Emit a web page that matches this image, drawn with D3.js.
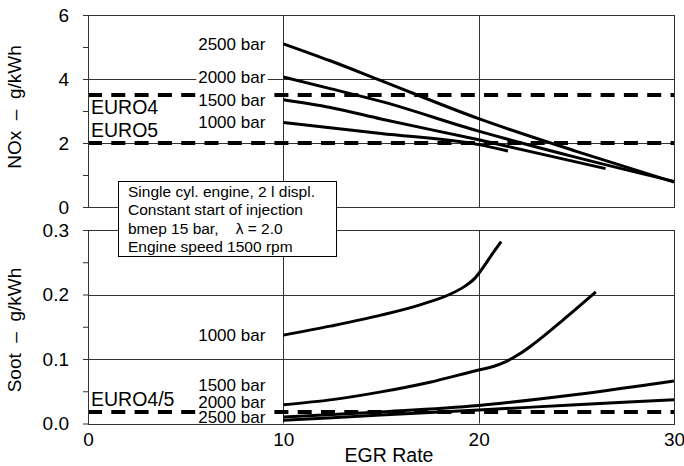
<!DOCTYPE html>
<html>
<head>
<meta charset="utf-8">
<script src="https://cdn.jsdelivr.net/npm/d3@7"></script>
<style>
  body { margin: 0; background: #fff; }
  svg text { font-family: "Liberation Sans", Arial, sans-serif; fill: #000; white-space: pre; }
</style>
</head>
<body>
<svg id="chart" width="684" height="466"></svg>
<script>
// x = EGR rate, y = NOx (g/kWh)
var pressures = ['1000 bar', '1500 bar', '2000 bar', '2500 bar'];
var nox1000 = [[10, 2.64], [15, 2.3], [20, 1.95], [21.5, 1.75]];
var nox1500 = [[10, 3.35], [12.4, 3.11], [15, 2.75], [20, 2.1], [26.5, 1.2]];
var nox2000 = [[10, 4.06], [12.4, 3.7], [15, 3.3], [20, 2.37], [25, 1.55], [30, 0.8]];
var nox2500 = [[10, 5.1], [12.4, 4.57], [15, 3.95], [20, 2.76], [25, 1.74], [30, 0.78]];
// x = EGR rate, y = soot (g/kWh)
var soot1000 = [[10, 0.137], [12.4, 0.151], [15, 0.168], [17, 0.184], [18.5, 0.2], [19.3, 0.213],
                [19.8, 0.225], [20.3, 0.245], [20.7, 0.263], [21.15, 0.282]];
var soot1500 = [[10, 0.029], [12.5, 0.037], [15, 0.049], [17.5, 0.064], [20, 0.083], [20.7, 0.088],
                [21.4, 0.096], [22.1, 0.108], [22.8, 0.123], [24.3, 0.16], [26, 0.204]];
var soot2000 = [[10, 0.01], [15, 0.018], [20, 0.028], [25, 0.045], [30, 0.066]];
var soot2500 = [[10, 0.005], [15, 0.013], [20, 0.021], [25, 0.029], [30, 0.037]];
// label anchors for the soot panel (value units)
var sootLabelAt = [0.137, 0.06, 0.034, 0.01];
// limits
var noxLimits = [{ name: 'EURO4', value: 3.5 }, { name: 'EURO5', value: 2.0 }];
var sootLimit = { name: 'EURO4/5', value: 0.018 };
var xTicks = [0, 10, 20, 30];
var noxTicks = [0, 1, 2, 3, 4, 5, 6];
var sootTicks = [0, 0.05, 0.1, 0.15, 0.2, 0.25, 0.3];
var infoLines = ['Single cyl. engine, 2 l displ.', 'Constant start of injection',
                 'bmep 15 bar,    \u03bb = 2.0', 'Engine speed 1500 rpm'];

var noxSeries = [nox1000, nox1500, nox2000, nox2500];
var sootSeries = [soot1000, soot1500, soot2000, soot2500];

var svg = d3.select('#chart');

var x = d3.scaleLinear().domain([0, 30]).range([88, 674]);
var yTop = d3.scaleLinear().domain([0, 6]).range([207, 15]);
var yBot = d3.scaleLinear().domain([0, 0.3]).range([423.5, 230]);

function grid(g, y, hVals) {
  g.selectAll('line.v').data([10, 20]).enter().append('line')
    .attr('x1', d => Math.round(x(d)) + 0.5).attr('x2', d => Math.round(x(d)) + 0.5)
    .attr('y1', y.range()[0]).attr('y2', y.range()[1])
    .attr('stroke', '#333').attr('stroke-width', 1);
  g.selectAll('line.h').data(hVals).enter().append('line')
    .attr('x1', x.range()[0]).attr('x2', x.range()[1])
    .attr('y1', d => Math.round(y(d)) + 0.5).attr('y2', d => Math.round(y(d)) + 0.5)
    .attr('stroke', '#333').attr('stroke-width', 1);
}

function dashed(g, y, v) {
  g.append('line')
    .attr('x1', x.range()[0]).attr('x2', x.range()[1])
    .attr('y1', y(v)).attr('y2', y(v))
    .attr('stroke', '#000').attr('stroke-width', 4)
    .attr('stroke-dasharray', '14,9.3');
}

function label(g, text, px, py, anchor, size) {
  var l = g.append('g');
  var t = l.append('text').attr('x', px).attr('y', py)
    .attr('text-anchor', anchor).attr('dy', '0.35em')
    .style('font-size', size + 'px').text(text);
  var b = t.node().getBBox();
  l.insert('rect', 'text').attr('x', b.x - 2).attr('y', b.y + 2)
    .attr('width', b.width + 4).attr('height', b.height - 4).attr('fill', '#fff');
}

function border(g, y) {
  g.append('rect')
    .attr('x', x.range()[0] + 0.5).attr('y', Math.round(y.range()[1]) + 0.5)
    .attr('width', x.range()[1] - x.range()[0])
    .attr('height', Math.round(y.range()[0]) - Math.round(y.range()[1]))
    .attr('fill', 'none').attr('stroke', '#333').attr('stroke-width', 1);
}

var line = function (y) {
  return d3.line().x(d => x(d[0])).y(d => y(d[1])).curve(d3.curveMonotoneX);
};

// ---- top panel: NOx
var topPanel = svg.append('g');
grid(topPanel, yTop, [2, 4]);
noxLimits.forEach(l => dashed(topPanel, yTop, l.value));
topPanel.append('text').attr('x', 91).attr('y', yTop(3.5) + 19).style('font-size', '19.5px').text('EURO4');
topPanel.append('text').attr('x', 91).attr('y', yTop(2) - 6).style('font-size', '19.5px').text('EURO5');
noxSeries.forEach((s, i) => label(topPanel, pressures[i], x(10) - 18, yTop(s[0][1]), 'end', 17));
topPanel.selectAll('path.nox').data(noxSeries).enter().append('path')
  .attr('d', line(yTop)).attr('fill', 'none').attr('stroke', '#000').attr('stroke-width', 3);
border(topPanel, yTop);
topPanel.append('g').attr('transform', 'translate(88,0)')
  .call(d3.axisLeft(yTop).tickValues(noxTicks).tickSize(5).tickPadding(14)
    .tickFormat(d => d % 2 === 0 ? d : ''))
  .call(g => g.select('.domain').remove())
  .call(g => g.selectAll('line').attr('stroke', '#333'))
  .call(g => g.selectAll('text').style('font-size', '19px').attr('font-family', null));

// ---- bottom panel: soot
var botPanel = svg.append('g');
grid(botPanel, yBot, [0.1, 0.2]);
dashed(botPanel, yBot, sootLimit.value);
botPanel.append('text').attr('x', 91).attr('y', yBot(sootLimit.value) - 6).style('font-size', '19.5px').text(sootLimit.name);
sootSeries.forEach((s, i) => label(botPanel, pressures[i], x(10) - 18, yBot(sootLabelAt[i]), 'end', 17));
botPanel.selectAll('path.soot').data(sootSeries).enter().append('path')
  .attr('d', line(yBot)).attr('fill', 'none').attr('stroke', '#000').attr('stroke-width', 3);
border(botPanel, yBot);
botPanel.append('g').attr('transform', 'translate(88,0)')
  .call(d3.axisLeft(yBot).tickValues(sootTicks).tickSize(5).tickPadding(14)
    .tickFormat(d => Math.round(d * 100) % 10 === 0 ? d3.format('.1f')(d) : ''))
  .call(g => g.select('.domain').remove())
  .call(g => g.selectAll('line').attr('stroke', '#333'))
  .call(g => g.selectAll('text').style('font-size', '19px').attr('font-family', null));
botPanel.append('g').attr('transform', 'translate(0,423.5)')
  .call(d3.axisBottom(x).tickValues(xTicks).tickSize(0).tickPadding(9))
  .call(g => g.select('.domain').remove())
  .call(g => g.selectAll('text').style('font-size', '19px').attr('font-family', null));

// axis titles
svg.append('text').attr('transform', 'translate(21,107) rotate(-90)')
  .attr('text-anchor', 'middle').style('font-size', '19px').text('NOx  \u2013  g/kWh');
svg.append('text').attr('transform', 'translate(21,330) rotate(-90)')
  .attr('text-anchor', 'middle').style('font-size', '19px').text('Soot  \u2013  g/kWh');
svg.append('text').attr('x', 389).attr('y', 462)
  .attr('text-anchor', 'middle').style('font-size', '19.5px').text('EGR Rate');

// info box
var box = svg.append('g');
box.append('rect').attr('x', 118.5).attr('y', 181.5).attr('width', 218).attr('height', 75)
  .attr('fill', '#fff').attr('stroke', '#000').attr('stroke-width', 1);
box.selectAll('text').data(infoLines).enter().append('text')
  .attr('x', 128).attr('y', (d, i) => 197 + i * 18.3)
  .style('font-size', '15.5px').text(d => d);
</script>
</body>
</html>
